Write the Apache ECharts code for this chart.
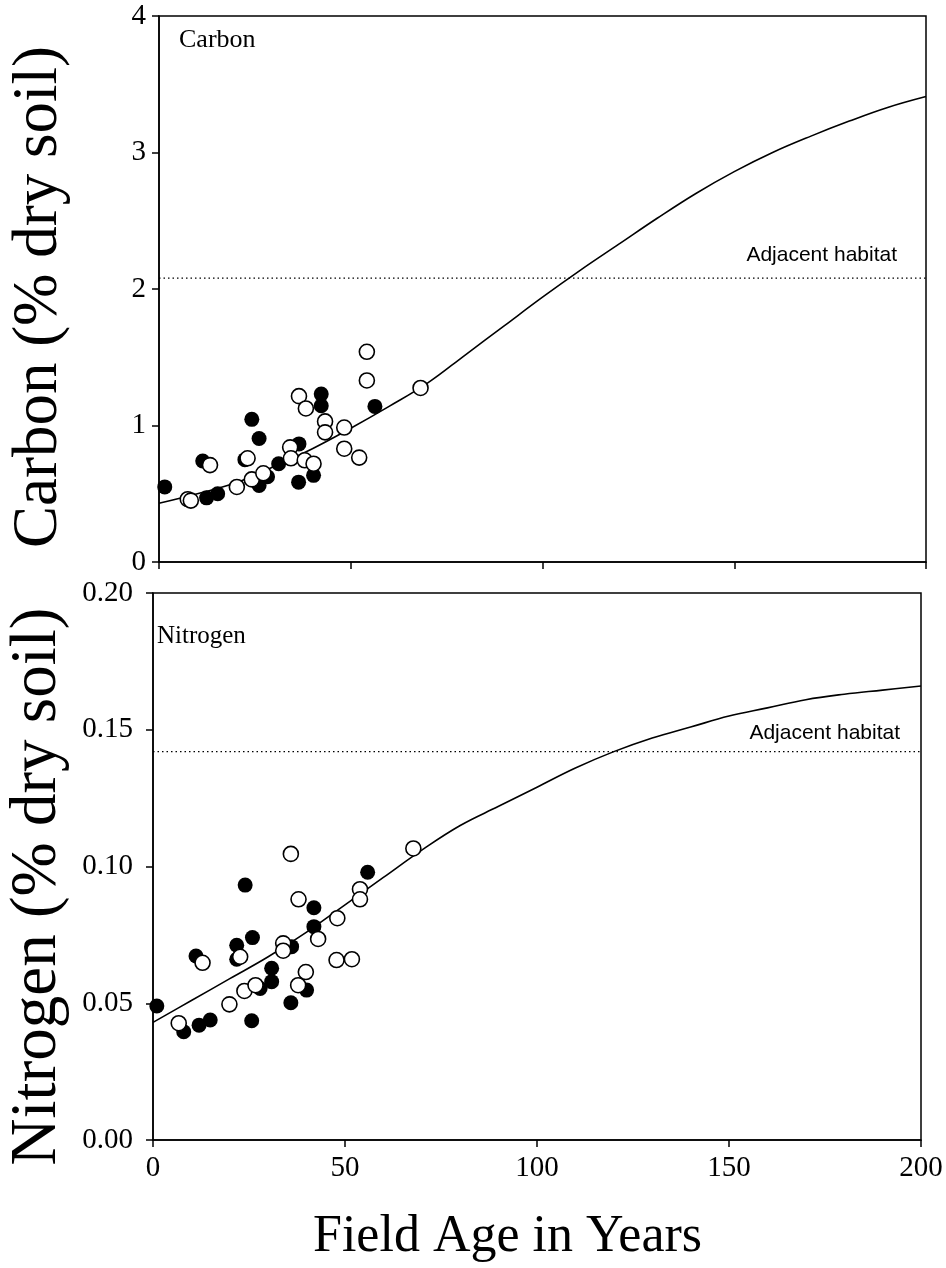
<!DOCTYPE html>
<html>
<head>
<meta charset="utf-8">
<script src="https://cdn.jsdelivr.net/npm/echarts@6/dist/echarts.min.js"></script>
<style>
html,body{margin:0;padding:0;background:#fff;}
#chart{width:946px;height:1268px;}
</style>
</head>
<body>
<div id="chart"></div>
<script>
// ---- Data ----
const xTicks = [0, 50, 100, 150, 200];
const carbonTicks = [0, 1, 2, 3, 4];
const nitrogenTicks = ['0.00', '0.05', '0.10', '0.15', '0.20'];

// Carbon (% dry soil): filled and open symbols [field age, value]
const carbonFilled = [
  [1.5,0.55],[12.4,0.47],[15.3,0.50],[11.4,0.74],[22.4,0.75],[24.2,1.045],
  [26.1,0.905],[26.1,0.56],[28.3,0.625],[31.2,0.72],[36.5,0.865],[36.4,0.585],
  [40.3,0.635],[42.3,1.23],[42.3,1.145],[56.3,1.14]
];
const carbonOpen = [
  [7.5,0.46],[8.3,0.45],[13.3,0.71],[20.3,0.55],[23.1,0.76],[24.2,0.605],
  [27.2,0.65],[34.2,0.84],[34.4,0.76],[38.0,0.745],[40.3,0.72],[36.5,1.215],
  [38.3,1.125],[43.3,1.03],[43.3,0.95],[48.3,0.985],[48.3,0.83],[52.2,0.765],
  [54.2,1.33],[54.2,1.54],[68.2,1.275]
];
// Fitted curve, read at 10-year steps
const curveAges = [0,10,20,30,40,50,60,70,80,90,100,110,120,130,140,150,160,170,180,190,200];
const carbonCurve = [0.43,0.50,0.58,0.70,0.83,0.98,1.14,1.31,1.52,1.73,1.94,2.14,2.33,2.52,2.70,2.86,3.00,3.12,3.23,3.33,3.41];
const carbonHabitat = 2.08;

// Nitrogen (% dry soil)
const nitrogenFilled = [
  [1.0,0.049],[8.0,0.0396],[12.0,0.042],[14.9,0.0439],[11.2,0.0673],[21.8,0.0712],
  [21.8,0.0661],[24.0,0.0932],[25.9,0.074],[25.7,0.0436],[27.9,0.0554],[30.9,0.0628],
  [30.9,0.0579],[36.1,0.0707],[35.9,0.0502],[40.0,0.0548],[41.9,0.0849],[41.9,0.078],
  [55.9,0.0979]
];
const nitrogenOpen = [
  [6.7,0.0427],[12.9,0.0648],[19.9,0.0496],[22.7,0.067],[23.8,0.0545],[26.7,0.0566],
  [33.9,0.0719],[33.9,0.0692],[35.9,0.1046],[37.9,0.088],[37.8,0.0566],[39.8,0.0614],
  [43.0,0.0735],[48.0,0.0811],[47.8,0.0658],[51.8,0.0661],[53.9,0.0917],[53.9,0.088],
  [67.8,0.1066]
];
const nitrogenCurve = [0.043,0.051,0.059,0.067,0.076,0.086,0.096,0.106,0.115,0.122,0.129,0.136,0.142,0.147,0.151,0.155,0.158,0.161,0.163,0.1645,0.166];
const nitrogenHabitat = 0.142;

const panelLabels = ['Carbon', 'Nitrogen'];
const yTitles = ['Carbon (% dry soil)', 'Nitrogen (% dry soil)'];
const xTitle = 'Field Age in Years';
const habitatLabel = 'Adjacent habitat';

// ---- Chart ----
const SERIF = '"Liberation Serif", "Times New Roman", serif';
const SANS = '"Liberation Sans", Arial, sans-serif';
const chart = echarts.init(document.getElementById('chart'), null, {renderer: 'canvas'});

function pairs(xs, ys) { return xs.map((x, i) => [x, ys[i]]); }

function xAxisCfg(gi, showLabels) {
  return {
    gridIndex: gi, type: 'value', min: 0, max: 200, interval: 50,
    axisLine: {show: true, onZero: false, lineStyle: {color: '#000', width: 1.5}},
    axisTick: {show: true, inside: false, length: 7, lineStyle: {color: '#000', width: 1.5}},
    axisLabel: {show: showLabels, color: '#000', fontFamily: SERIF, fontSize: 29, margin: 14,
      formatter: v => String(xTicks[xTicks.indexOf(v)])},
    splitLine: {show: false}
  };
}

function scatter(name, gi, data, filled) {
  return {
    name, type: 'scatter', xAxisIndex: gi, yAxisIndex: gi, data,
    symbol: 'circle', symbolSize: 15,
    itemStyle: filled ? {color: '#000', opacity: 1} : {color: '#fff', borderColor: '#000', borderWidth: 1.6, opacity: 1},
    z: filled ? 3 : 4, silent: true
  };
}

function curve(name, gi, data) {
  return {
    name, type: 'line', xAxisIndex: gi, yAxisIndex: gi, data, smooth: 0.4,
    showSymbol: false, lineStyle: {color: '#000', width: 1.6}, z: 2, silent: true
  };
}

function habitat(name, gi, level, offset) {
  return {
    name, type: 'line', xAxisIndex: gi, yAxisIndex: gi, data: [[0, level], [200, level]],
    showSymbol: false, lineStyle: {color: '#000', width: 1.2, type: [1.5, 3]}, z: 1, silent: true,
    markPoint: {
      symbol: 'circle', symbolSize: 0,
      data: [{coord: [200, level]}],
      label: {show: true, position: 'left', formatter: habitatLabel, color: '#000',
        fontFamily: SANS, fontSize: 21, offset}
    }
  };
}

function yName(text, gap, pad, size) {
  return {
    name: text, nameLocation: 'middle', nameRotate: 90, nameGap: gap,
    nameTextStyle: {fontFamily: SERIF, fontSize: size, fontWeight: 'normal', color: '#000', padding: pad}
  };
}

const option = {
  backgroundColor: '#fff',
  animation: false,
  title: [
    {text: panelLabels[0], left: 179, top: 27, padding: 0,
      textStyle: {fontFamily: SERIF, fontSize: 26, fontWeight: 'normal', color: '#000'}},
    {text: panelLabels[1], left: 157, top: 624, padding: 0,
      textStyle: {fontFamily: SERIF, fontSize: 25, fontWeight: 'normal', color: '#000'}},
    {text: xTitle, left: 313, top: 1211, padding: 0,
      textStyle: {fontFamily: SERIF, fontSize: 52, fontWeight: 'normal', color: '#000'}}
  ],
  grid: [
    {left: 159, top: 16, width: 767, height: 546, show: true, borderColor: '#000', borderWidth: 1.5,
      backgroundColor: 'transparent', containLabel: false, outerBoundsMode: 'none'},
    {left: 153, top: 593, width: 768, height: 547, show: true, borderColor: '#000', borderWidth: 1.5,
      backgroundColor: 'transparent', containLabel: false, outerBoundsMode: 'none'}
  ],
  xAxis: [xAxisCfg(0, false), xAxisCfg(1, true)],
  yAxis: [
    Object.assign({gridIndex: 0, type: 'value', min: 0, max: 4, interval: 1,
      axisLine: {show: true, onZero: false, lineStyle: {color: '#000', width: 1.5}},
      axisTick: {show: true, length: 7, lineStyle: {color: '#000', width: 1.5}},
      axisLabel: {color: '#000', fontFamily: SERIF, fontSize: 29, margin: 13,
        formatter: v => String(carbonTicks[Math.round(v)])},
      splitLine: {show: false}}, yName(yTitles[0], 88, [0, 16, 0, 0], 63)),
    Object.assign({gridIndex: 1, type: 'value', min: 0, max: 0.2, interval: 0.05,
      axisLine: {show: true, onZero: false, lineStyle: {color: '#000', width: 1.5}},
      axisTick: {show: true, length: 7, lineStyle: {color: '#000', width: 1.5}},
      axisLabel: {color: '#000', fontFamily: SERIF, fontSize: 29, margin: 20,
        formatter: v => nitrogenTicks[Math.round(v / 0.05)]},
      splitLine: {show: false}}, yName(yTitles[1], 83, [0, 40, 0, 0], 65))
  ],
  series: [
    habitat('Carbon habitat', 0, carbonHabitat, [-24, -23]),
    curve('Carbon fit', 0, pairs(curveAges, carbonCurve)),
    scatter('Carbon filled', 0, carbonFilled, true),
    scatter('Carbon open', 0, carbonOpen, false),
    habitat('Nitrogen habitat', 1, nitrogenHabitat, [-16, -18]),
    curve('Nitrogen fit', 1, pairs(curveAges, nitrogenCurve)),
    scatter('Nitrogen filled', 1, nitrogenFilled, true),
    scatter('Nitrogen open', 1, nitrogenOpen, false)
  ]
};
chart.setOption(option);
</script>
</body>
</html>
